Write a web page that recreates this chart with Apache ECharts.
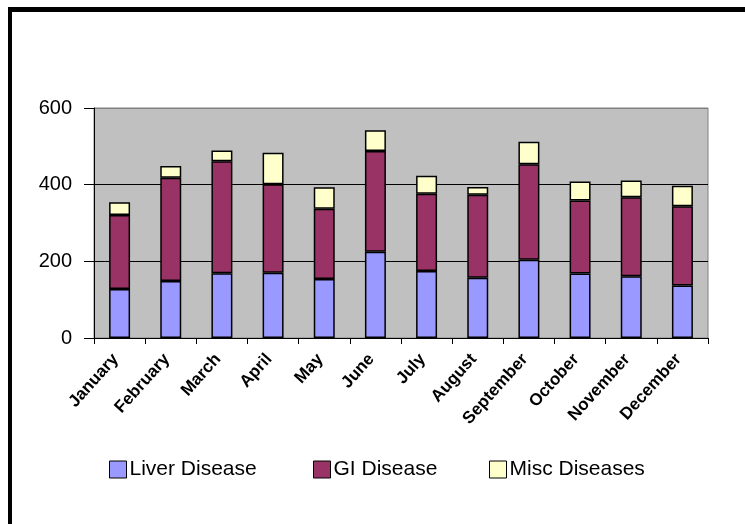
<!DOCTYPE html>
<html>
<head>
<meta charset="utf-8">
<script src="https://cdn.jsdelivr.net/npm/echarts@6/dist/echarts.min.js"></script>
<style>
html,body{margin:0;padding:0;background:#fff;}
#chart{width:745px;height:524px;}
</style>
</head>
<body>
<div id="chart"></div>
<script>
var months = ['January','February','March','April','May','June','July','August','September','October','November','December'];
var liverDisease = [128,149,169,170,154,225,175,157,204,168,161,137];
var giDisease = [193,269,292,231,183,263,201,217,249,191,206,207];
var miscDiseases = [33,31,28,82,56,54,47,20,59,49,44,53];
var yTicks = [0,200,400,600];

var FONT = 'Arial, "Liberation Sans", sans-serif';
var chart = echarts.init(document.getElementById('chart'));

function legendFor(name, left) {
  return {
    data: [name], left: left, top: 454, orient: 'horizontal',
    itemWidth: 17, itemHeight: 17, itemGap: 8,
    icon: 'rect',
    itemStyle: { borderColor: '#000', borderWidth: 1 },
    textStyle: { fontFamily: FONT, fontSize: 21, color: '#000', padding: [0,0,0,-2] }
  };
}

var option = {
  backgroundColor: '#fff',
  animation: false,
  graphic: [
    { type: 'rect', shape: { x: 8, y: 7, width: 737, height: 5 }, style: { fill: '#000' } },
    { type: 'rect', shape: { x: 8, y: 7, width: 4, height: 517 }, style: { fill: '#000' } }
  ],
  grid: {
    left: 94, right: 37, top: 108, bottom: 186,
    show: true, backgroundColor: '#C0C0C0', borderColor: '#808080', borderWidth: 1
  },
  legend: [
    legendFor('Liver Disease', 104),
    legendFor('GI Disease', 308),
    legendFor('Misc Diseases', 484)
  ],
  xAxis: {
    type: 'category', data: months,
    axisLine: { lineStyle: { color: '#000', width: 1 } },
    axisTick: { show: true, length: 6, alignWithLabel: false, lineStyle: { color: '#000' } },
    axisLabel: {
      rotate: 48, interval: 0, margin: 14, padding: [0, 6, 0, 0],
      fontFamily: FONT, fontSize: 17, fontWeight: 'bold', color: '#000'
    }
  },
  yAxis: {
    type: 'value', min: yTicks[0], max: yTicks[yTicks.length-1], interval: 200,
    axisLine: { show: true, lineStyle: { color: '#000' } },
    axisTick: { show: true, length: 10, lineStyle: { color: '#000' } },
    axisLabel: { margin: 22, fontFamily: FONT, fontSize: 20, color: '#000' },
    splitLine: { show: true, lineStyle: { color: ['#000','#000','#000','#808080'], width: 1 } }
  },
  series: [
    { name: 'Liver Disease', type: 'bar', stack: 'all', data: liverDisease, barWidth: '41%',
      itemStyle: { color: '#9999FF', borderColor: '#000', borderWidth: 1.5 } },
    { name: 'GI Disease', type: 'bar', stack: 'all', data: giDisease, barWidth: '41%',
      itemStyle: { color: '#993366', borderColor: '#000', borderWidth: 1.5 } },
    { name: 'Misc Diseases', type: 'bar', stack: 'all', data: miscDiseases, barWidth: '41%',
      itemStyle: { color: '#FFFFCC', borderColor: '#000', borderWidth: 1.5 } }
  ]
};
chart.setOption(option);
</script>
</body>
</html>
